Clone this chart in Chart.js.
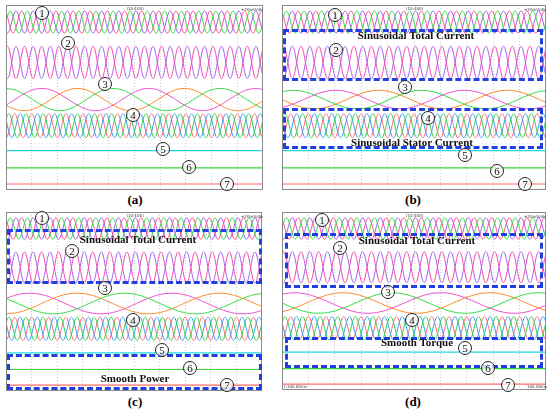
<!DOCTYPE html>
<html>
<head>
<meta charset="utf-8">
<script src="https://cdn.jsdelivr.net/npm/chart.js@4"></script>
<style>
    body { margin: 0; background: #fff; width: 550px; height: 412px; position: relative; overflow: hidden; }
    canvas { position: absolute; }
    .lbl { position: absolute; font: bold 13px 'Liberation Serif', serif; transform: translateX(-50%); }
    .num { position: absolute; width: 12px; height: 12px; border: 1px solid #222; border-radius: 50%;
           background: rgba(255,255,255,0.75); font: 11px 'Liberation Serif', serif; line-height: 12px;
           text-align: center; color: #111; transform: translate(-50%, -50%); }
    .box { position: absolute; border: 3px dashed #1f3fe0; box-sizing: border-box; }
    .cap { position: absolute; font: bold 11px 'Liberation Serif', serif; color: #111; white-space: nowrap;
           transform: translate(-50%, -50%); }
    .tiny { position: absolute; font: 4px 'DejaVu Sans', sans-serif; color: #333; white-space: nowrap; }
</style>
</head>
<body>
<canvas id="pa" width="257" height="185" style="left:6px;top:5px"></canvas>
<canvas id="pb" width="264" height="185" style="left:282px;top:5px"></canvas>
<canvas id="pc" width="256" height="179" style="left:6px;top:212px"></canvas>
<canvas id="pd" width="264" height="178" style="left:282px;top:212px"></canvas>
<script>
// one cycle of a sinusoidal trace, 12 samples
const sineCycle = [0, 0.5, 0.87, 1, 0.87, 0.5, 0, -0.5, -0.87, -1, -0.87, -0.5];

// channel levels on screen (divisions from bottom, 8 div high)
const channelLevels = [7.26, 5.52, 3.91, 2.78, 1.70, 0.96, 0.26];
// peak amplitude of the ac channels (div): ch1, ch2, ch4
const ch1Amp = 0.48;
const ch2Amp = 0.70;
const ch4Amp = 0.52;
// cycles across the 10 divisions (grid frequency)
const ch1Cycles = 15;
const ch2Cycles = 15;
const ch4Cycles = 15;
// phase shifts in samples (12 per cycle)
const ch1Shifts = [0, 4, 8];
const ch2Shifts = [0, 6];
const ch4Shifts = [0, 4, 8];
// rotor current (ch3) per panel a, b, c, d
const ch3Amps = [0.48, 0.40, 0.46, 0.46];
const ch3Cycles = [2.4, 2.05, 1.8, 1.8];
const ch3Start = [3, 2, 5, 6];
const ch3Shifts = [0, 4, 8];

const ch1Colors = ['#33dd44', '#ff4f8f', '#a25cf0'];
const ch2Colors = ['#f24cb0', '#a862f0'];
const ch3Colors = ['#33dd44', '#ff8a2a', '#f050d0'];
const ch4Colors = ['#2ad04a', '#3a9af0', '#ff6a78'];
const dcColors = ['#22d8e0', '#3ad23a', '#ff6a6a'];

const panelIds = ['pa', 'pb', 'pc', 'pd'];

function phaseTrace(level, amp, cycles, start, shift) {
    const pts = [];
    const n = Math.ceil(cycles * sineCycle.length);
    for (let i = 0; i <= n; i++) {
        const s = sineCycle[(i + start + shift) % sineCycle.length];
        pts.push({ x: (i / (cycles * sineCycle.length)) * 10, y: level + amp * s });
    }
    return pts;
}

function phaseSet(level, amp, cycles, start, shifts, colors, tension) {
    return colors.map((c, k) => ({
        data: phaseTrace(level, amp, cycles, start, shifts[k]),
        borderColor: c,
        borderWidth: 1,
        tension: tension,
    }));
}

const framePlugin = {
    id: 'frame',
    afterDraw(chart) {
        const { ctx, chartArea: a } = chart;
        ctx.save();
        ctx.strokeStyle = '#8a8a8a';
        ctx.lineWidth = 1;
        ctx.strokeRect(a.left + 0.5, a.top + 0.5, a.right - a.left - 1, a.bottom - a.top - 1);
        ctx.restore();
    },
};

panelIds.forEach((id, p) => {
    const datasets = [
        ...phaseSet(channelLevels[0], ch1Amp, ch1Cycles, 0, ch1Shifts, ch1Colors, 0.3),
        ...phaseSet(channelLevels[1], ch2Amp, ch2Cycles, 2, ch2Shifts, ch2Colors, 0.3),
        ...phaseSet(channelLevels[2], ch3Amps[p], ch3Cycles[p], ch3Start[p], ch3Shifts, ch3Colors, 0.4),
        ...phaseSet(channelLevels[3], ch4Amp, ch4Cycles, 1, ch4Shifts, ch4Colors, 0.3),
    ];
    [4, 5, 6].forEach((ch, k) => {
        datasets.push({
            data: [{ x: 0, y: channelLevels[ch] }, { x: 10, y: channelLevels[ch] }],
            borderColor: dcColors[k],
            borderWidth: 1.2,
        });
    });

    new Chart(document.getElementById(id), {
        type: 'line',
        data: { datasets },
        options: {
            responsive: false,
            animation: false,
            devicePixelRatio: 1,
            events: [],
            layout: { padding: 0 },
            elements: { point: { radius: 0 } },
            plugins: { legend: { display: false }, tooltip: { enabled: false } },
            scales: {
                x: {
                    type: 'linear', min: 0, max: 10,
                    ticks: { display: false, stepSize: 1 },
                    grid: { color: '#cfcfcf', drawTicks: false },
                    border: { display: false, dash: [1, 2] },
                },
                y: {
                    type: 'linear', min: 0, max: 8,
                    ticks: { display: false, stepSize: 1 },
                    grid: { color: '#e4e4e4', drawTicks: false },
                    border: { display: false, dash: [1, 3] },
                },
            },
        },
        plugins: [framePlugin],
    });
});

// annotations: panel labels, channel markers, highlighted regions
const panelLabels = [['(a)', 135, 192], ['(b)', 413, 192], ['(c)', 135, 394], ['(d)', 413, 394]];
const markerPos = [
    [[42, 13], [68, 43], [105, 84], [133, 115], [163, 149], [189, 167], [227, 184]],
    [[335, 15], [336, 50], [405, 87], [428, 118], [465, 155], [497, 171], [525, 184]],
    [[42, 218], [72, 251], [105, 288], [133, 320], [162, 350], [190, 368], [227, 385]],
    [[322, 220], [340, 248], [388, 292], [412, 320], [465, 348], [488, 368], [508, 385]],
];
const boxes = [
    [283, 29, 260, 52, 'Sinusoidal Total Current', 416, 35],
    [283, 108, 260, 41, 'Sinusoidal Stator Current', 412, 142],
    [7, 229, 255, 55, 'Sinusoidal Total Current', 138, 239],
    [7, 354, 255, 36, 'Smooth Power', 135, 378],
    [285, 233, 258, 55, 'Sinusoidal Total Current', 417, 240],
    [285, 337, 258, 31, 'Smooth Torque', 417, 342],
];

function add(cls, text, style) {
    const el = document.createElement('div');
    el.className = cls;
    el.textContent = text;
    Object.assign(el.style, style);
    document.body.appendChild(el);
    return el;
}

panelLabels.forEach(([t, x, y]) => add('lbl', t, { left: x + 'px', top: y + 'px' }));
boxes.forEach(([x, y, w, h, t, tx, ty]) => {
    add('box', '', { left: x + 'px', top: y + 'px', width: w + 'px', height: h + 'px' });
    add('cap', t, { left: tx + 'px', top: ty + 'px' });
});
markerPos.forEach((list) => list.forEach(([x, y], i) => {
    add('num', String(i + 1), { left: x + 'px', top: y + 'px' });
}));
[[6, 5], [282, 5], [6, 212], [282, 212]].forEach(([x, y], i) => {
    const w = i % 2 ? 264 : 257;
    add('tiny', '(10:100)', { left: (x + w / 2 - 8) + 'px', top: (y + 1) + 'px' });
    add('tiny', '+20mV/div', { left: (x + w - 22) + 'px', top: (y + 2) + 'px' });
});
add('tiny', 't:100.00ms', { left: '284px', top: '384px' });
add('tiny', '100.00ms', { left: '527px', top: '384px' });
</script>
</body>
</html>
